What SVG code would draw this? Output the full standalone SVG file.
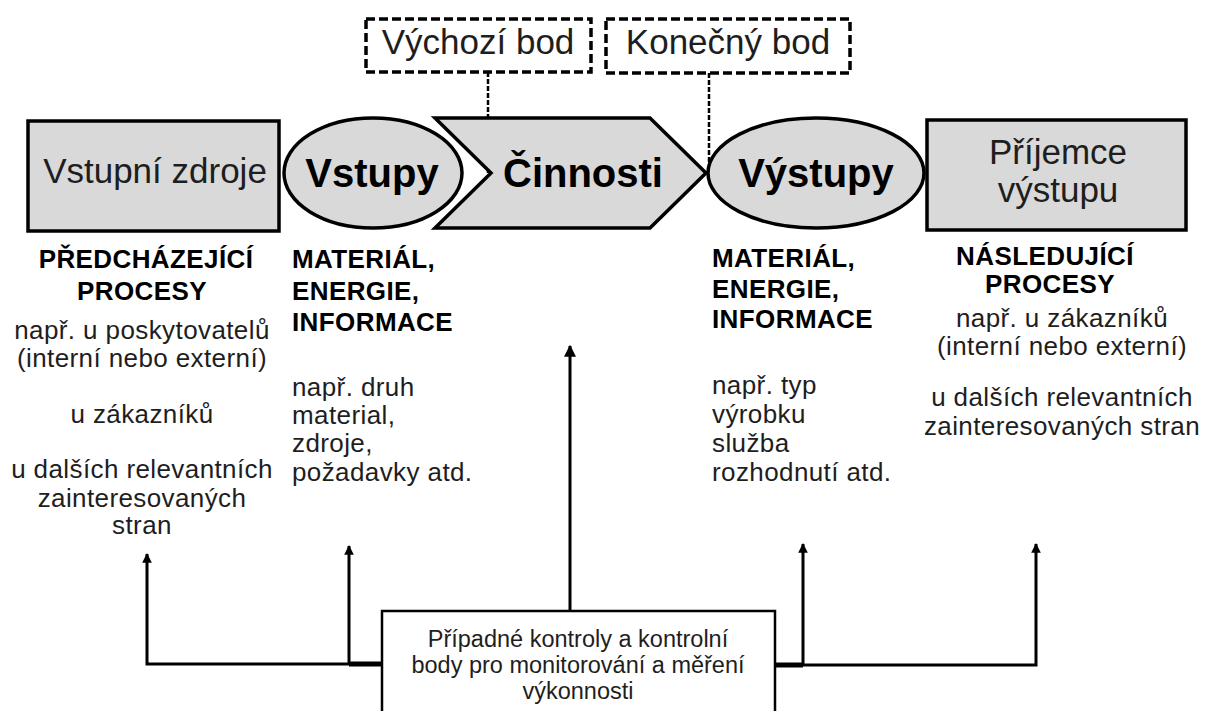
<svg xmlns="http://www.w3.org/2000/svg" width="1209" height="711" viewBox="0 0 1209 711">
  <style>
    .shape { fill: #d9d9d9; stroke: #000; stroke-width: 3.5; }
    .dashbox { fill: #fff; stroke: #000; stroke-width: 3.5; stroke-dasharray: 9 4; }
    .dashline { fill: none; stroke: #000; stroke-width: 2.5; stroke-dasharray: 5 2; }
    .lbl { font-family: "Liberation Sans", Arial, sans-serif; fill: #1e1e1e; }
    .big { font-size: 35px; text-anchor: middle; }
    .bold { font-weight: bold; fill: #000; }
    .head { font-size: 40px; text-anchor: middle; }
    .txt { font-size: 26px; letter-spacing: 0.4px; }
    .mid { text-anchor: middle; }
    .box { font-size: 23.5px; text-anchor: middle; }
    .wire { fill: none; stroke: #000; stroke-width: 3; }
  </style>
  <defs>
    <marker id="tip" viewBox="0 0 10 10" refX="9" refY="5" markerWidth="3.2" markerHeight="3.2" orient="auto" markerUnits="strokeWidth">
      <path d="M0,0 L10,5 L0,10 z" fill="#000"/>
    </marker>
    <marker id="tipBig" viewBox="0 0 10 10" refX="9" refY="5" markerWidth="4" markerHeight="4" orient="auto" markerUnits="strokeWidth">
      <path d="M0,0 L10,5 L0,10 z" fill="#000"/>
    </marker>
  </defs>

  <rect width="1209" height="711" fill="#fff"/>

  <!-- connectors -->
  <g id="connectors">
    <line class="dashline" x1="488" y1="72" x2="488" y2="173"/>
    <line class="dashline" x1="709" y1="73" x2="709" y2="173"/>
    <polyline class="wire" points="382,664 147,664 147,554" marker-end="url(#tip)"/>
    <line class="wire" x1="349" y1="664" x2="349" y2="546" marker-end="url(#tip)"/>
    <line x1="349" y1="664" x2="382" y2="664" stroke="#000" stroke-width="5"/>
    <line class="wire" x1="570" y1="611" x2="570" y2="346" marker-end="url(#tipBig)"/>
    <polyline class="wire" points="775,665 1036,665 1036,544" marker-end="url(#tip)"/>
    <line class="wire" x1="803" y1="665" x2="803" y2="544" marker-end="url(#tip)"/>
    <line x1="775" y1="665" x2="803" y2="665" stroke="#000" stroke-width="5"/>
  </g>

  <!-- start point -->
  <g id="start-point">
    <rect class="dashbox" x="366" y="19" width="225" height="53"/>
    <text class="lbl big" x="478" y="54">Výchozí bod</text>
  </g>

  <!-- end point -->
  <g id="end-point">
    <rect class="dashbox" x="606" y="19" width="244" height="54"/>
    <text class="lbl big" x="728" y="54">Konečný bod</text>
  </g>

  <!-- input resources -->
  <g id="input-resources">
    <rect class="shape" x="28" y="121" width="251" height="110"/>
    <text class="lbl big" x="155" y="183" font-size="36">Vstupní zdroje</text>
  </g>

  <!-- inputs -->
  <g id="inputs">
    <ellipse class="shape" cx="373" cy="173" rx="89" ry="55"/>
    <text class="lbl head bold" x="372" y="187">Vstupy</text>
  </g>

  <!-- activities -->
  <g id="activities">
    <polygon class="shape" points="435,118 650,118 706,173 650,228 435,228 491,173"/>
    <text class="lbl head bold" x="583" y="187">Činnosti</text>
  </g>

  <!-- outputs -->
  <g id="outputs">
    <ellipse class="shape" cx="816" cy="173" rx="108" ry="55"/>
    <text class="lbl head bold" x="816" y="187">Výstupy</text>
  </g>

  <!-- output recipient -->
  <g id="output-recipient">
    <rect class="shape" x="927" y="120" width="259" height="110"/>
    <text class="lbl big" x="1058" y="164">Příjemce</text>
    <text class="lbl big" x="1058" y="202">výstupu</text>
  </g>

  <!-- preceding processes -->
  <g id="preceding-processes">
    <text class="lbl txt bold mid" x="146" y="268">PŘEDCHÁZEJÍCÍ</text>
    <text class="lbl txt bold mid" x="142" y="300">PROCESY</text>
    <text class="lbl txt mid" x="142" y="339">např. u poskytovatelů</text>
    <text class="lbl txt mid" x="142" y="367">(interní nebo externí)</text>
    <text class="lbl txt mid" x="142" y="423">u zákazníků</text>
    <text class="lbl txt mid" x="142" y="478">u dalších relevantních</text>
    <text class="lbl txt mid" x="142" y="507">zainteresovaných</text>
    <text class="lbl txt mid" x="142" y="534">stran</text>
  </g>

  <!-- input kinds -->
  <g id="input-kinds">
    <text class="lbl txt bold" x="292" y="268">MATERIÁL,</text>
    <text class="lbl txt bold" x="292" y="300">ENERGIE,</text>
    <text class="lbl txt bold" x="292" y="331">INFORMACE</text>
    <text class="lbl txt" x="292" y="396">např. druh</text>
    <text class="lbl txt" x="292" y="424">material,</text>
    <text class="lbl txt" x="292" y="452">zdroje,</text>
    <text class="lbl txt" x="292" y="481">požadavky atd.</text>
  </g>

  <!-- output kinds -->
  <g id="output-kinds">
    <text class="lbl txt bold" x="712" y="267">MATERIÁL,</text>
    <text class="lbl txt bold" x="712" y="298">ENERGIE,</text>
    <text class="lbl txt bold" x="712" y="328">INFORMACE</text>
    <text class="lbl txt" x="712" y="394">např. typ</text>
    <text class="lbl txt" x="712" y="423">výrobku</text>
    <text class="lbl txt" x="712" y="452">služba</text>
    <text class="lbl txt" x="712" y="481">rozhodnutí atd.</text>
  </g>

  <!-- following processes -->
  <g id="following-processes">
    <text class="lbl txt bold mid" x="1045" y="265">NÁSLEDUJÍCÍ</text>
    <text class="lbl txt bold mid" x="1050" y="293">PROCESY</text>
    <text class="lbl txt mid" x="1062" y="327">např. u zákazníků</text>
    <text class="lbl txt mid" x="1062" y="355">(interní nebo externí)</text>
    <text class="lbl txt mid" x="1062" y="406">u dalších relevantních</text>
    <text class="lbl txt mid" x="1062" y="435">zainteresovaných stran</text>
  </g>

  <!-- monitoring box -->
  <g id="monitoring">
    <rect x="382" y="611" width="393" height="110" fill="#fff" stroke="#000" stroke-width="2.5"/>
    <text class="lbl box" x="578" y="647">Případné kontroly a kontrolní</text>
    <text class="lbl box" x="578" y="673">body pro monitorování a měření</text>
    <text class="lbl box" x="578" y="699">výkonnosti</text>
  </g>
</svg>
